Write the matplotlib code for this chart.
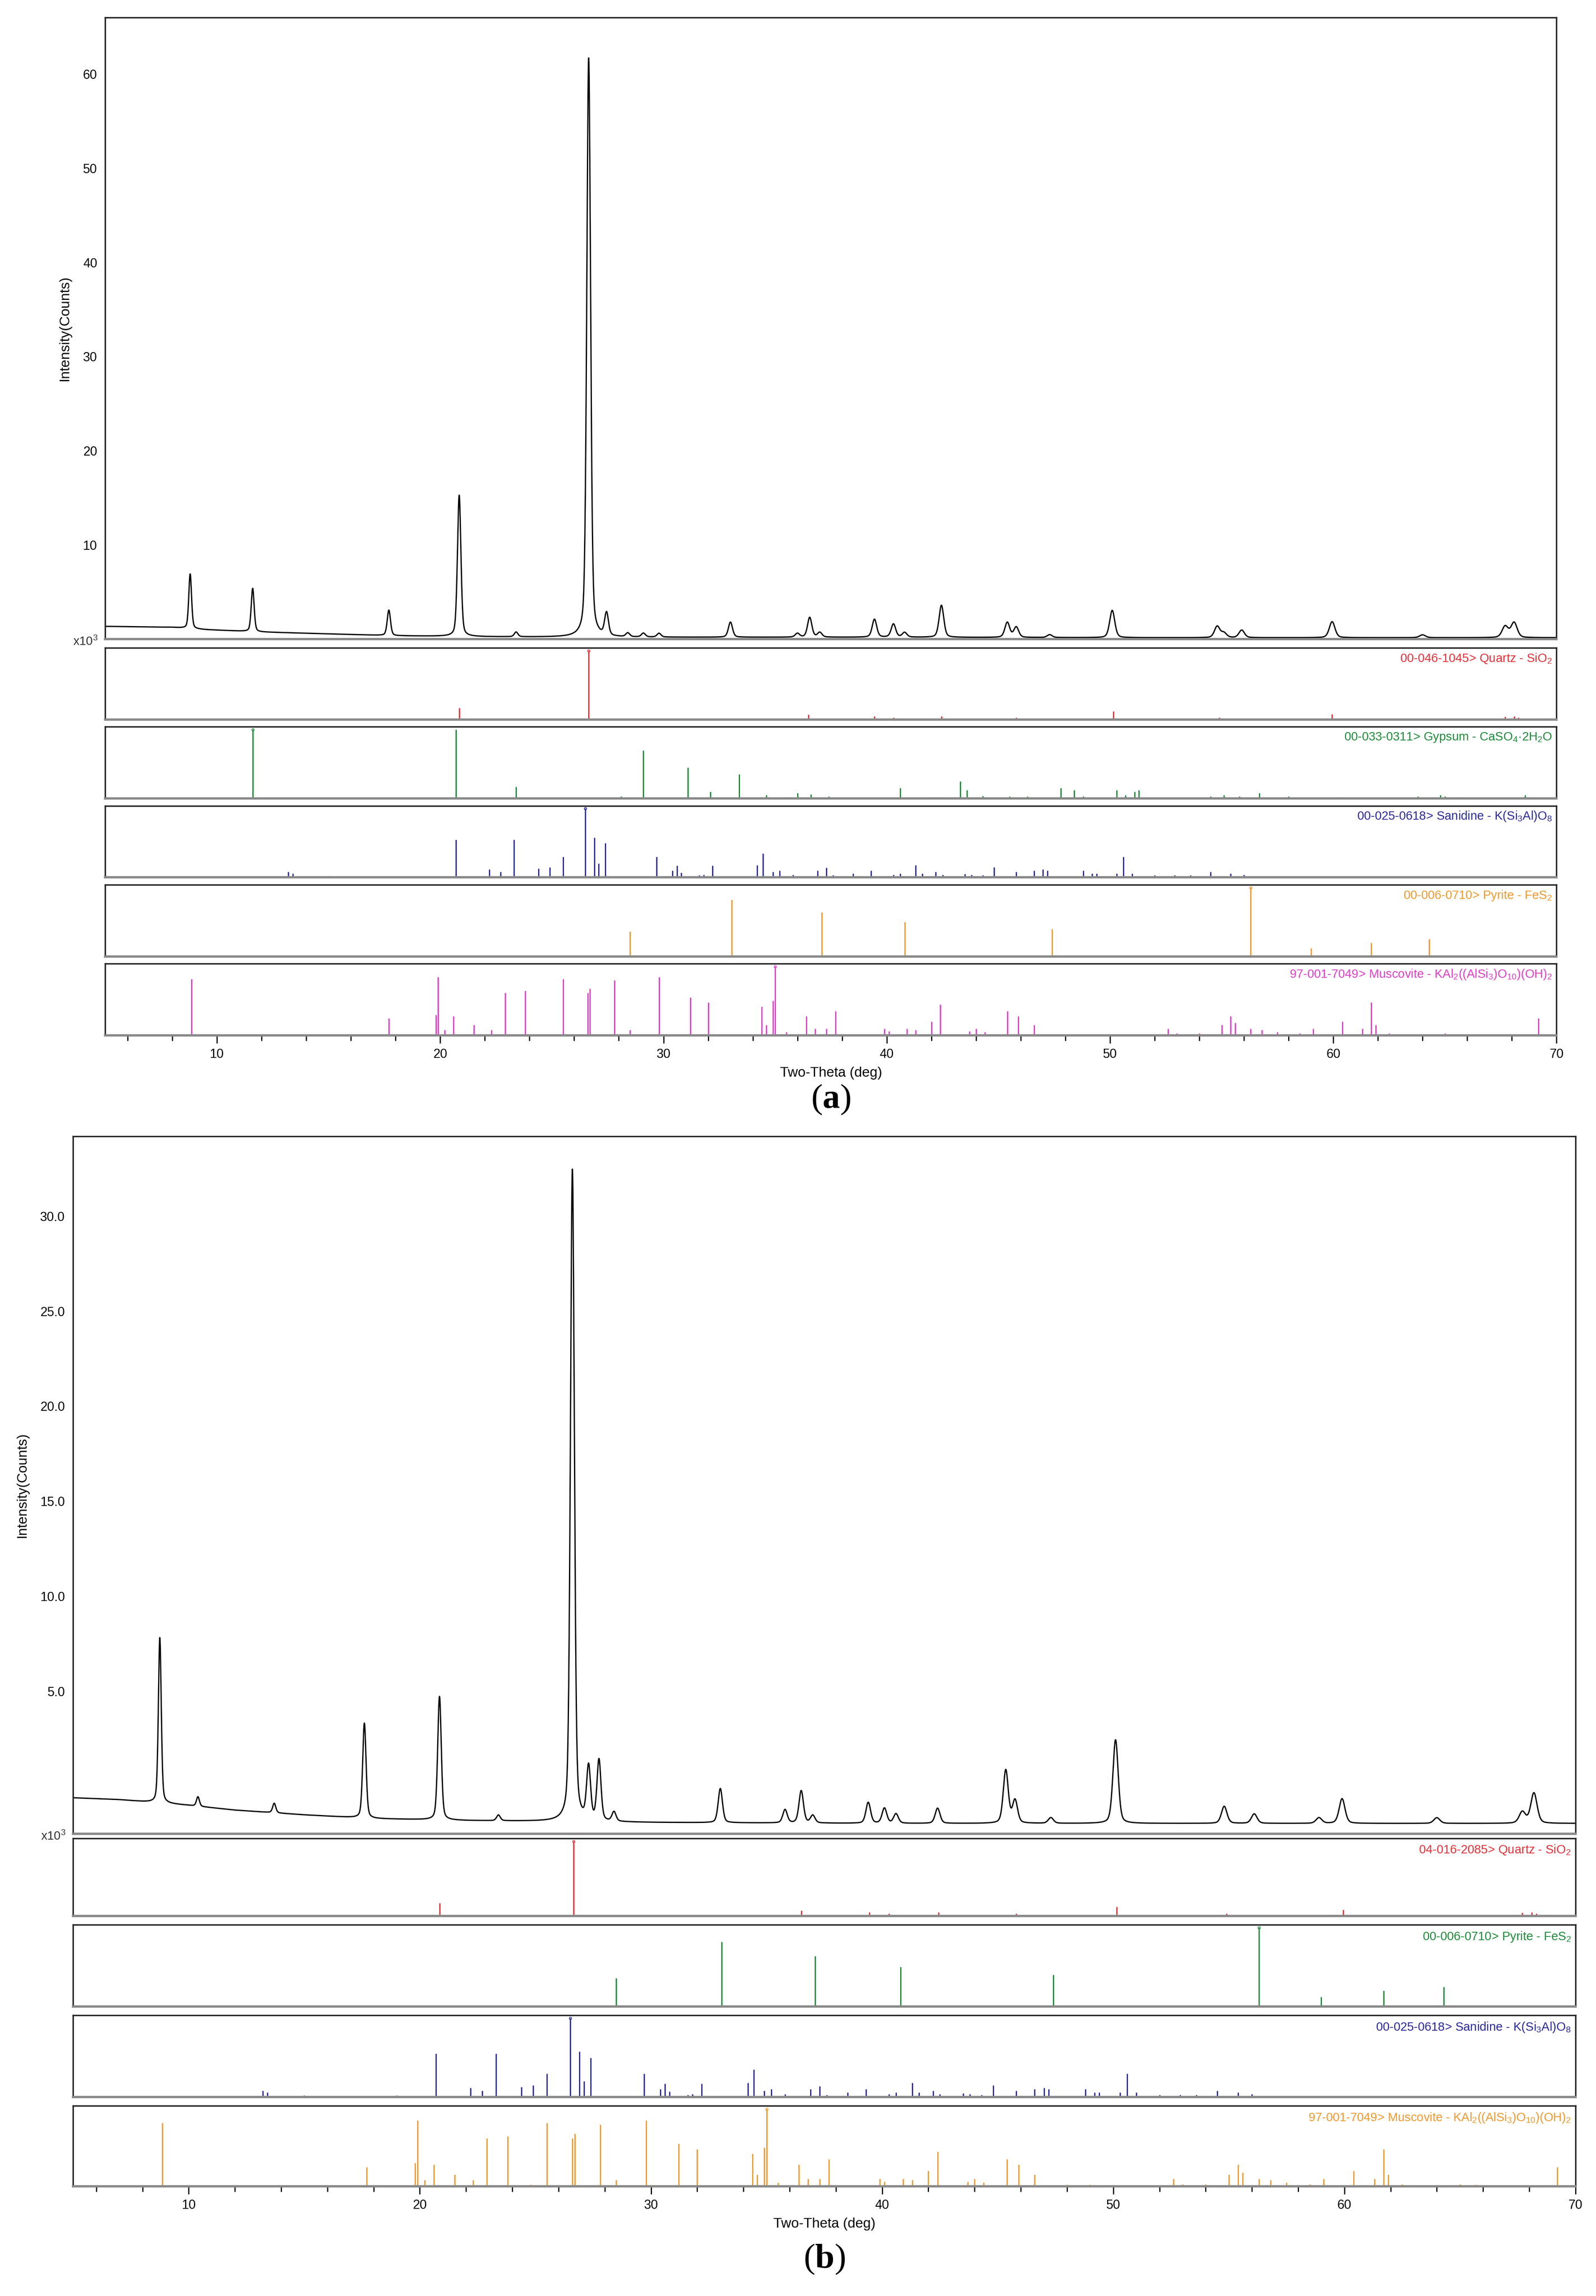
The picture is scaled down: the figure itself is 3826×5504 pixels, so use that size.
import numpy as np
import matplotlib
matplotlib.use("Agg")
import matplotlib.pyplot as plt

plt.rcParams.update({
    "font.family": ["Liberation Sans", "DejaVu Sans"],
    "mathtext.default": "regular",
    "mathtext.fontset": "custom",
    "mathtext.bf": "Liberation Serif:bold",
    "font.size": 20,
})

# ---------------- data: panel (a) ----------------
a_bg_x = [5, 8, 9.5, 12, 15, 18, 22, 26, 30, 40, 50, 60, 70]
a_bg_y = [1.35, 1.25, 1.0, 0.75, 0.55, 0.35, 0.25, 0.2, 0.2, 0.2, 0.15, 0.15, 0.15]
a_pk_pos = [8.8, 11.6, 17.7, 20.85, 23.4, 26.65, 27.45, 28.4, 29.1, 29.8, 33.0, 36.0, 36.55, 37.0,
            39.45, 40.3, 40.8, 42.45, 45.4, 45.8, 47.3, 50.1, 54.8, 55.1, 55.9, 59.95, 64.0, 67.7, 68.1]
a_pk_h = [5.8, 4.6, 2.7, 15.0, 0.5, 61.5, 2.4, 0.4, 0.4, 0.4, 1.6, 0.4, 2.1, 0.5,
          1.9, 1.4, 0.5, 3.4, 1.6, 1.1, 0.3, 2.9, 1.2, 0.5, 0.8, 1.7, 0.3, 1.2, 1.6]

# ---------------- data: panel (b) ----------------
b_bg_x = [5, 7, 8, 10, 12, 15, 18, 22, 26, 30, 40, 50, 60, 70]
b_bg_y = [-0.6, -0.7, -0.8, -1.0, -1.25, -1.5, -1.7, -1.8, -1.85, -1.9, -1.95, -1.95, -1.95, -1.95]
b_pk_pos = [8.75, 10.4, 13.7, 17.6, 20.85, 23.4, 26.6, 27.3, 27.75, 28.4, 33.0, 35.8, 36.5, 37.0,
            39.4, 40.1, 40.6, 42.4, 45.35, 45.75, 47.3, 50.1, 54.8, 56.1, 58.9, 59.9, 64.0, 67.7, 68.2]
b_pk_h = [8.7, 0.5, 0.5, 5.0, 6.5, 0.3, 34.3, 2.8, 3.2, 0.5, 1.8, 0.7, 1.7, 0.4,
          1.1, 0.8, 0.5, 0.8, 2.8, 1.2, 0.3, 4.4, 0.9, 0.5, 0.3, 1.3, 0.3, 0.6, 1.6]

# ---------------- stick patterns ----------------
quartz_x = [20.85, 26.65, 36.5, 39.45, 40.3, 42.45, 45.8, 50.15, 54.9, 55.3, 59.95, 64.0, 65.8, 67.7, 68.1, 68.3]
quartz_y = [17, 100, 7, 5, 3, 5, 3, 12, 3, 1, 8, 1, 1, 4, 5, 3]
gypsum_x = [11.6, 20.7, 23.4, 28.1, 29.1, 31.1, 32.1, 33.4, 34.6, 35.5, 36.0, 36.6, 37.4, 40.6, 42.2,
            43.3, 43.6, 44.3, 45.5, 46.3, 47.8, 48.4, 48.8, 50.3, 50.7, 51.1, 51.3, 54.5, 55.1, 55.8,
            56.7, 58.0, 60.3, 63.8, 64.8, 65.0, 65.5, 68.6]
gypsum_y = [100, 100, 17, 3, 70, 45, 10, 35, 5, 2, 8, 6, 3, 15, 2,
            25, 12, 4, 3, 3, 15, 12, 3, 12, 5, 10, 12, 3, 5, 3,
            8, 3, 2, 3, 5, 3, 2, 5]
sanidine_x = [13.2, 13.4, 15.0, 19.0, 20.7, 22.2, 22.7, 23.3, 24.4, 24.9, 25.5, 26.5, 26.9, 27.1, 27.4,
              29.7, 30.4, 30.6, 30.8, 31.6, 31.8, 32.2, 34.2, 34.45, 34.9, 35.2, 35.8, 36.9, 37.3, 37.6,
              38.5, 39.3, 40.3, 40.6, 41.3, 41.6, 42.2, 42.5, 43.5, 43.8, 44.3, 44.8, 45.8, 46.6, 47.0,
              47.2, 48.8, 49.2, 49.4, 50.3, 50.6, 51.0, 52.0, 52.9, 53.6, 54.5, 55.4, 56.0]
sanidine_y = [8, 6, 2, 2, 55, 12, 8, 55, 13, 15, 30, 100, 58, 20, 50,
              30, 10, 17, 7, 3, 4, 17, 18, 35, 8, 10, 4, 10, 14, 3,
              6, 10, 4, 6, 18, 6, 8, 4, 5, 4, 3, 15, 8, 10, 12,
              10, 10, 6, 6, 6, 30, 6, 3, 3, 3, 8, 6, 4]
pyrite_x = [28.5, 33.05, 37.1, 40.8, 47.4, 56.3, 59.0, 61.7, 64.3]
pyrite_y = [36, 82, 64, 50, 40, 100, 12, 20, 25]
musc_x = [8.85, 17.7, 19.8, 19.9, 20.2, 20.6, 21.5, 22.3, 22.9, 23.8, 24.8, 25.5, 26.6, 26.7, 27.8,
          28.5, 29.8, 31.2, 32.0, 34.4, 34.6, 34.9, 35.0, 35.5, 36.4, 36.8, 37.3, 37.7, 39.9, 40.1,
          40.9, 41.3, 42.0, 42.4, 43.7, 44.0, 44.4, 45.4, 45.9, 46.6, 48.0, 49.0, 52.6, 53.0, 54.0,
          55.0, 55.4, 55.6, 56.3, 56.8, 57.5, 58.5, 59.1, 60.4, 61.3, 61.7, 61.9, 62.5, 65.0, 65.7, 69.2]
musc_y = [82, 25, 30, 85, 8, 28, 15, 8, 62, 65, 2, 82, 62, 68, 80,
          8, 85, 55, 48, 42, 15, 50, 100, 5, 28, 10, 10, 35, 10, 6,
          10, 8, 20, 45, 6, 10, 5, 35, 28, 15, 2, 2, 10, 3, 3,
          15, 28, 18, 10, 8, 5, 3, 10, 20, 10, 48, 15, 3, 3, 2, 25]

labels_a = [
    ("00-046-1045> Quartz - SiO$_2$", "#e8333a", quartz_x, quartz_y),
    ("00-033-0311> Gypsum - CaSO$_4$·2H$_2$O", "#1e8c3a", gypsum_x, gypsum_y),
    ("00-025-0618> Sanidine - K(Si$_3$Al)O$_8$", "#2b2b9c", sanidine_x, sanidine_y),
    ("00-006-0710> Pyrite - FeS$_2$", "#f09a30", pyrite_x, pyrite_y),
    ("97-001-7049> Muscovite - KAl$_2$((AlSi$_3$)O$_{10}$)(OH)$_2$", "#e040c8", musc_x, musc_y),
]
labels_b = [
    ("04-016-2085> Quartz - SiO$_2$", "#e8333a", quartz_x, quartz_y),
    ("00-006-0710> Pyrite - FeS$_2$", "#1e8c3a", pyrite_x, pyrite_y),
    ("00-025-0618> Sanidine - K(Si$_3$Al)O$_8$", "#2b2b9c", sanidine_x, sanidine_y),
    ("97-001-7049> Muscovite - KAl$_2$((AlSi$_3$)O$_{10}$)(OH)$_2$", "#f09a30", musc_x, musc_y),
]

tt = np.arange(5, 70.001, 0.01)


def pattern(bg_x, bg_y, pos, h):
    # pseudo-Voigt profiles on an interpolated background
    y = np.interp(tt, bg_x, bg_y)
    for p, hh in zip(pos, h):
        w = 0.06 + 0.0015 * p
        d = (tt - p) / w
        y = y + hh * (0.35 / (1 + d ** 2) + 0.65 * np.exp(-np.log(2) * d ** 2))
    return y


W, H = 1091.0, 1570.0


def rect(l, t, r, b):
    return [l / W, 1 - b / H, (r - l) / W, (b - t) / H]


fig = plt.figure(figsize=(38.26, 55.04), dpi=100)


def style_frame(ax):
    for s in ax.spines.values():
        s.set_linewidth(2.5)
        s.set_color("#222222")
    ax.spines["bottom"].set_color("#888888")
    ax.spines["bottom"].set_linewidth(4)


def draw_block(main_rect, panels, data, ylim, yticks, yfmt, tag, tag_y, left):
    ax = fig.add_axes(rect(*main_rect))
    ax.plot(tt, data, color="black", linewidth=2.2)
    ax.set_xlim(5, 70)
    ax.set_ylim(*ylim)
    ax.set_yticks(yticks)
    ax.set_yticklabels([yfmt.format(v) for v in yticks], fontsize=22)
    ax.tick_params(axis="y", length=0, pad=14)
    ax.set_xticks([])
    ax.set_ylabel("Intensity(Counts)", fontsize=24, labelpad=20)
    style_frame(ax)
    ax.text(-0.005, -0.004, "x10$^3$", transform=ax.transAxes, ha="right", va="center",
            fontsize=21, color="#333333")
    for i, ((lab, col, xs, ys), (t, b)) in enumerate(zip(panels[0], panels[1])):
        sa = fig.add_axes(rect(left, t, main_rect[2], b))
        sa.vlines(xs, 0, ys, color=col, linewidth=2.2)
        imax = int(np.argmax(ys))
        sa.plot([xs[imax]], [ys[imax]], marker="o", ms=4, mfc="none", mec=col, mew=1.2)
        sa.set_xlim(5, 70)
        sa.set_ylim(0, 104)
        sa.set_yticks([])
        style_frame(sa)
        sa.text(0.997, 0.85, lab, transform=sa.transAxes, ha="right", va="center",
                color=col, fontsize=21)
        if i < len(panels[0]) - 1:
            sa.set_xticks([])
        else:
            sa.set_xticks(range(10, 71, 10))
            sa.set_xticks(range(6, 70, 2), minor=True)
            sa.tick_params(axis="x", which="major", length=14, width=2, labelsize=22, pad=8)
            sa.tick_params(axis="x", which="minor", length=9, width=2)
            sa.set_xlabel("Two-Theta (deg)", fontsize=24, labelpad=10)
    fig.text((main_rect[0] + main_rect[2]) / 2 / W, 1 - tag_y / H, "(" + r"$\mathbf{" + tag + "}$" + ")",
             ha="center", va="center", fontsize=60, family=["Liberation Serif", "DejaVu Serif"])


ya = pattern(a_bg_x, a_bg_y, a_pk_pos, a_pk_h)
yb = pattern(b_bg_x, b_bg_y, b_pk_pos, b_pk_h)

draw_block((72, 12, 1064, 437),
           (labels_a, [(443, 492), (497, 546), (551, 600), (605, 654), (659, 708)]),
           ya, (0, 66), [10, 20, 30, 40, 50, 60], "{:.0f}", "a", 752, 72)

draw_block((50, 777, 1077, 1254),
           (labels_b, [(1257, 1310), (1316, 1372), (1378, 1434), (1440, 1495)]),
           yb, (-2.5, 34.2), [5, 10, 15, 20, 25, 30], "{:.1f}", "b", 1545, 50)

fig.savefig("out.png", dpi=100, facecolor="white")
